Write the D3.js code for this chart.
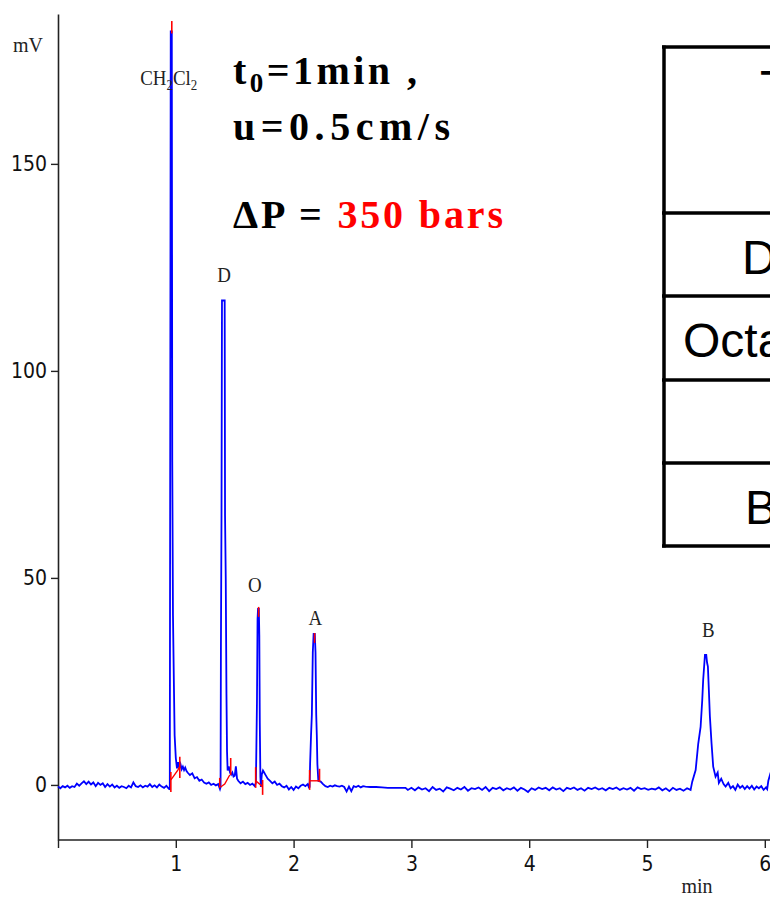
<!DOCTYPE html>
<html>
<head>
<meta charset="utf-8">
<script src="https://cdn.jsdelivr.net/npm/d3@7/dist/d3.min.js"></script>
<style>
  html, body { margin: 0; padding: 0; background: #fff; }
  svg { display: block; }
</style>
</head>
<body>
<svg id="chart" width="770" height="897"></svg>
<script>
// ---------------- DATA ----------------
const xTicks = [1, 2, 3, 4, 5, 6];
const yTicks = [0, 50, 100, 150];
const xUnit = "min";
const yUnit = "mV";

// detector trace [time (min), signal (mV)]
const trace = [
  [0.00,-0.4],[0.02,-0.8],[0.04,-0.3],[0.06,-0.6],[0.08,-0.2],[0.10,-0.7],[0.12,-0.3],[0.14,-0.5],
  [0.16,0.3],[0.18,-0.2],[0.20,0.4],[0.22,0.9],[0.24,0.2],[0.26,0.8],[0.28,0.1],[0.30,0.6],
  [0.32,-0.3],[0.34,0.5],[0.36,0.0],[0.38,0.4],[0.40,-0.5],[0.42,0.2],[0.44,-0.4],[0.46,0.1],
  [0.48,-0.6],[0.50,-0.2],[0.52,-0.7],[0.54,-0.3],[0.56,-0.5],[0.58,-0.8],[0.60,-0.2],[0.62,-0.6],
  [0.64,0.6],[0.66,-0.3],[0.68,-0.5],[0.70,-0.1],[0.72,-0.6],[0.74,-0.2],[0.76,-0.4],[0.78,0.2],
  [0.80,-0.5],[0.82,-0.1],[0.84,-0.6],[0.86,0.1],[0.88,-0.4],[0.90,-0.7],[0.92,-0.2],[0.94,-0.9],
  // CH2Cl2
  [0.949,-1.0],[0.950,22],[0.953,90],[0.957,182],[0.966,182],[0.970,78],[0.976,41],[0.984,24],
  [0.990,12],[1.000,6.5],[1.010,4.0],[1.020,5.5],[1.030,4.0],[1.040,5.0],[1.050,3.8],[1.060,4.4],
  [1.070,3.6],[1.080,4.2],[1.090,3.4],[1.100,3.0],[1.120,2.4],[1.140,2.8],[1.160,1.6],[1.180,1.9],
  [1.200,1.0],[1.220,1.3],[1.240,0.6],[1.260,0.3],[1.280,0.6],[1.300,0.0],[1.320,0.3],[1.340,-0.1],
  [1.360,0.2],[1.375,-1.0],
  // D
  [1.380,-0.5],[1.383,33],[1.388,65],[1.392,117],[1.415,117],[1.418,65],[1.424,50],[1.430,22],
  [1.435,8],[1.440,3.5],[1.450,4.5],[1.460,3.0],[1.470,2.5],[1.480,3.0],[1.490,2.0],[1.500,2.2],
  [1.510,4.5],[1.520,1.5],[1.530,1.0],[1.550,0.4],[1.570,0.8],[1.590,0.2],[1.610,0.5],[1.630,0.0],
  [1.650,0.3],[1.670,-0.3],
  // O
  [1.680,0.5],[1.684,9],[1.689,20],[1.694,40],[1.698,42.5],[1.705,42.5],[1.709,36],[1.713,15],
  [1.718,2],[1.722,-0.5],[1.730,2.5],[1.740,3.5],[1.750,3.0],[1.760,2.5],[1.770,2.0],[1.780,1.5],
  [1.800,1.0],[1.820,0.4],[1.840,0.8],[1.860,0.0],[1.880,0.3],[1.900,-0.3],[1.920,-0.6],[1.940,-0.2],
  [1.960,-1.1],[1.980,-0.5],[2.000,-1.2],[2.020,-0.4],[2.040,-0.8],[2.060,-0.2],[2.080,0.1],[2.100,-0.3],
  [2.120,0.2],[2.130,-0.6],
  // A
  [2.136,-0.5],[2.140,5],[2.148,12],[2.155,17],[2.163,32],[2.170,36.5],[2.180,36.5],[2.186,32],
  [2.192,17],[2.197,12],[2.202,5],[2.210,1.0],[2.230,0.8],[2.250,0.2],[2.270,-0.3],[2.290,-0.5],
  [2.310,-0.2],[2.330,-0.4],[2.350,-0.1],[2.370,-0.3],[2.390,-0.4],[2.410,-0.2],[2.430,-0.5],[2.450,-1.6],
  [2.470,-0.4],[2.490,-1.5],[2.510,-0.3],[2.530,-0.5],[2.550,-0.2],[2.570,-0.6],[2.590,-0.3],[2.610,-0.4],
  [2.650,-0.5],[2.700,-0.5],[2.750,-0.6],[2.800,-0.7],[2.850,-0.7],[2.900,-0.7],[2.950,-0.7],[2.970,-1.2],
  [3.00,-0.7],[3.03,-1.3],[3.06,-0.6],[3.09,-1.1],[3.12,-0.8],[3.15,-1.5],[3.18,-0.5],[3.21,-1.2],
  [3.24,-0.9],[3.27,-1.6],[3.30,-0.6],[3.33,-0.9],[3.36,-1.3],[3.39,-0.7],[3.42,-1.1],[3.45,-0.5],
  [3.48,-1.4],[3.51,-0.8],[3.54,-1.0],[3.57,-0.6],[3.60,-1.2],[3.63,-0.5],[3.66,-1.5],[3.69,-0.7],
  [3.72,-1.0],[3.75,-0.6],[3.78,-1.3],[3.81,-0.8],[3.84,-1.1],[3.87,-0.6],[3.90,-1.4],[3.93,-0.7],
  [3.96,-1.1],[3.99,-1.7],[4.02,-0.8],[4.05,-1.2],[4.08,-0.6],[4.11,-1.0],[4.14,-0.7],[4.17,-1.3],
  [4.20,-0.6],[4.23,-1.1],[4.26,-0.8],[4.29,-1.5],[4.32,-0.7],[4.35,-1.0],[4.38,-0.6],[4.41,-1.2],
  [4.44,-0.8],[4.47,-1.4],[4.50,-0.7],[4.53,-1.0],[4.56,-0.6],[4.59,-1.1],[4.62,-0.8],[4.65,-1.3],
  [4.68,-0.7],[4.71,-1.0],[4.74,-0.6],[4.77,-1.2],[4.80,-0.8],[4.83,-1.1],[4.86,-0.7],[4.89,-1.4],
  [4.92,-0.6],[4.95,-1.0],[4.98,-0.8],[5.01,-1.2],[5.04,-0.9],[5.07,-1.1],[5.10,-0.6],[5.13,-1.3],
  [5.16,-0.8],[5.19,-1.5],[5.22,-0.7],[5.25,-1.2],[5.28,-0.9],[5.31,-1.4],[5.34,-0.8],[5.37,-1.2],
  // B
  [5.384,0.8],[5.413,3.6],[5.435,10],[5.455,14],[5.469,20.5],[5.477,25.4],[5.492,31.4],[5.503,31.4],
  [5.510,29.5],[5.517,28.6],[5.525,23],[5.534,16.5],[5.548,10],[5.562,4.4],[5.582,2.0],[5.600,3.0],
  [5.610,0.5],[5.630,1.5],[5.650,0.2],[5.667,-0.4],[5.690,0.5],[5.710,-0.8],[5.730,-0.3],[5.750,-1.2],
  [5.770,0.1],[5.790,-0.7],[5.810,-0.2],[5.830,-1.0],[5.850,-0.3],[5.870,-0.9],[5.890,-0.2],[5.910,-1.1],
  [5.930,-0.4],[5.950,-0.8],[5.970,-0.3],[5.990,-1.2],[6.010,-0.6],[6.020,-1.0],[6.030,1.0],[6.050,3.0]
];

// peak labels
const peakNames = ["CH2Cl2", "D", "O", "A", "B"];
const peakTimes = [0.94, 1.41, 1.67, 2.185, 5.52];
const peakLabelLevels = [169, 121.5, 46.5, 38.7, 35.8];

// integration markers (red): vertical ticks [time, from mV, to mV]
const integrationTicks = [
  [0.958,-1.7,3.1],[1.034,1.7,6.8],[0.966,181.5,184.5],
  [1.373,-0.7,1.7],[1.466,2.4,6.5],
  [1.678,-0.7,4.3],[1.737,-2.4,1.2],[1.703,40.6,43.0],
  [2.136,-1.2,3.6],[2.220,0.7,3.9],[2.178,34.3,36.7]
];
// integration baselines (red)
const integrationBaselines = [
  [[0.958,1.2],[0.983,2.2],[1.017,3.6],[1.034,4.5]],
  [[1.381,-0.5],[1.415,0.2],[1.458,2.4]],
  [[1.678,1.0],[1.712,0.2],[1.737,-0.5]],
  [[2.136,1.0],[2.220,1.0]]
];

// annotation
const noteLine1 = ["t", "0", "=1min ,"];
const noteLine2 = "u=0.5cm/s";
const noteLine3 = ["\u0394P = ", "350 bars"];

// table (cropped at right edge)
const tableTexts = ["T", "D", "Octa", "", "B"];

// ---------------- CHART ----------------
const svg = d3.select("#chart");
const x = d3.scaleLinear().domain([0, 6.1]).range([58, 58 + 6.1 * 117.8]);
const y = d3.scaleLinear().domain([-13.3, 186.2]).range([840, 14]);

const axisColor = "#222";
const tickFont = "'Liberation Sans Narrow','DejaVu Sans Condensed','Arial Narrow',sans-serif";
const serif = "'Liberation Serif','Times New Roman',serif";

// x axis
const xAxis = d3.axisBottom(x).tickValues([0].concat(xTicks)).tickFormat(d => d === 0 ? "" : d3.format("d")(d))
  .tickSizeInner(8).tickSizeOuter(0).tickPadding(8);
const gx = svg.append("g").attr("transform", "translate(0,840)").call(xAxis);
gx.select(".domain").attr("stroke", axisColor).attr("stroke-width", 1.6).attr("d", "M58,0H770");
gx.selectAll(".tick line").attr("stroke", axisColor).attr("stroke-width", 1.4);
gx.selectAll(".tick text").attr("fill", "#111").style("font-family", tickFont).style("font-size", "21px");

// y axis
const yAxis = d3.axisLeft(y).tickValues(yTicks).tickSizeInner(7).tickSizeOuter(0).tickPadding(4);
const gy = svg.append("g").attr("transform", "translate(58,0)").call(yAxis);
gy.select(".domain").attr("stroke", axisColor).attr("stroke-width", 1.6);
gy.selectAll(".tick line").attr("stroke", axisColor).attr("stroke-width", 1.4);
gy.selectAll(".tick text").attr("fill", "#111").style("font-family", tickFont).style("font-size", "21px");

// units
svg.append("text").attr("x", 13).attr("y", 52).text(yUnit)
  .style("font-family", serif).style("font-size", "20px").attr("fill", "#222");
svg.append("text").attr("x", 697).attr("y", 893).attr("text-anchor", "middle").text(xUnit)
  .style("font-family", serif).style("font-size", "20px").attr("fill", "#222");

// trace
const line = d3.line().x(d => x(d[0])).y(d => y(d[1]));
svg.append("path").datum(trace).attr("d", line)
  .attr("fill", "none").attr("stroke", "#0000ff").attr("stroke-width", 1.8).attr("stroke-linejoin", "miter");

// integration markers
svg.append("g").selectAll("path").data(integrationBaselines).join("path")
  .attr("d", line).attr("fill", "none").attr("stroke", "#ff0000").attr("stroke-width", 1.4);
svg.append("g").selectAll("line").data(integrationTicks).join("line")
  .attr("x1", d => x(d[0])).attr("x2", d => x(d[0]))
  .attr("y1", d => y(d[1])).attr("y2", d => y(d[2]))
  .attr("stroke", "#ff0000").attr("stroke-width", 1.6);

// peak labels (condensed serif look)
const labels = svg.append("g").style("font-family", serif).style("font-size", "22px").attr("fill", "#222");
peakNames.forEach((name, i) => {
  const t = labels.append("text")
    .attr("transform", `translate(${x(peakTimes[i])},${y(peakLabelLevels[i])}) scale(0.86,1)`)
    .attr("text-anchor", "middle");
  if (name === "CH2Cl2") {
    t.append("tspan").text("CH");
    t.append("tspan").text("2").style("font-size", "15px").attr("dy", 5);
    t.append("tspan").text("Cl").attr("dy", -5);
    t.append("tspan").text("2").style("font-size", "15px").attr("dy", 5);
  } else {
    t.text(name);
  }
});

// annotation
const note = svg.append("g").style("font-family", serif).style("font-weight", "bold").style("font-size", "40px").attr("fill", "#000");
const n1 = note.append("text").attr("x", 233).attr("y", 84).attr("textLength", 184).attr("lengthAdjust", "spacing");
n1.append("tspan").text(noteLine1[0]);
n1.append("tspan").text(noteLine1[1]).style("font-size", "27px").attr("dy", 8);
n1.append("tspan").text(noteLine1[2]).attr("dy", -8);
note.append("text").attr("x", 233).attr("y", 140).attr("textLength", 217).attr("lengthAdjust", "spacing").text(noteLine2);
const n3 = note.append("text").attr("x", 233).attr("y", 228).attr("textLength", 270).attr("lengthAdjust", "spacing");
n3.append("tspan").text(noteLine3[0]);
n3.append("tspan").text(noteLine3[1]).attr("fill", "#ff0000");

// table
const tbl = svg.append("g");
const rowLines = [47, 213, 296, 380, 463, 546];
tbl.append("line").attr("x1", 664).attr("x2", 664).attr("y1", 45.5).attr("y2", 547.5)
  .attr("stroke", "#000").attr("stroke-width", 3.5);
tbl.selectAll("line.h").data(rowLines).join("line").attr("class", "h")
  .attr("x1", 662).attr("x2", 770).attr("y1", d => d).attr("y2", d => d)
  .attr("stroke", "#000").attr("stroke-width", 3.5);
const textX = [760, 742, 683, 800, 745];
const textY = [104, 274, 357, 440, 524];
tbl.selectAll("text").data(tableTexts).join("text")
  .attr("x", (d, i) => textX[i]).attr("y", (d, i) => textY[i]).text(d => d)
  .style("font-family", "'Liberation Sans',Arial,sans-serif").style("font-size", "48px").attr("fill", "#000");
</script>
</body>
</html>
